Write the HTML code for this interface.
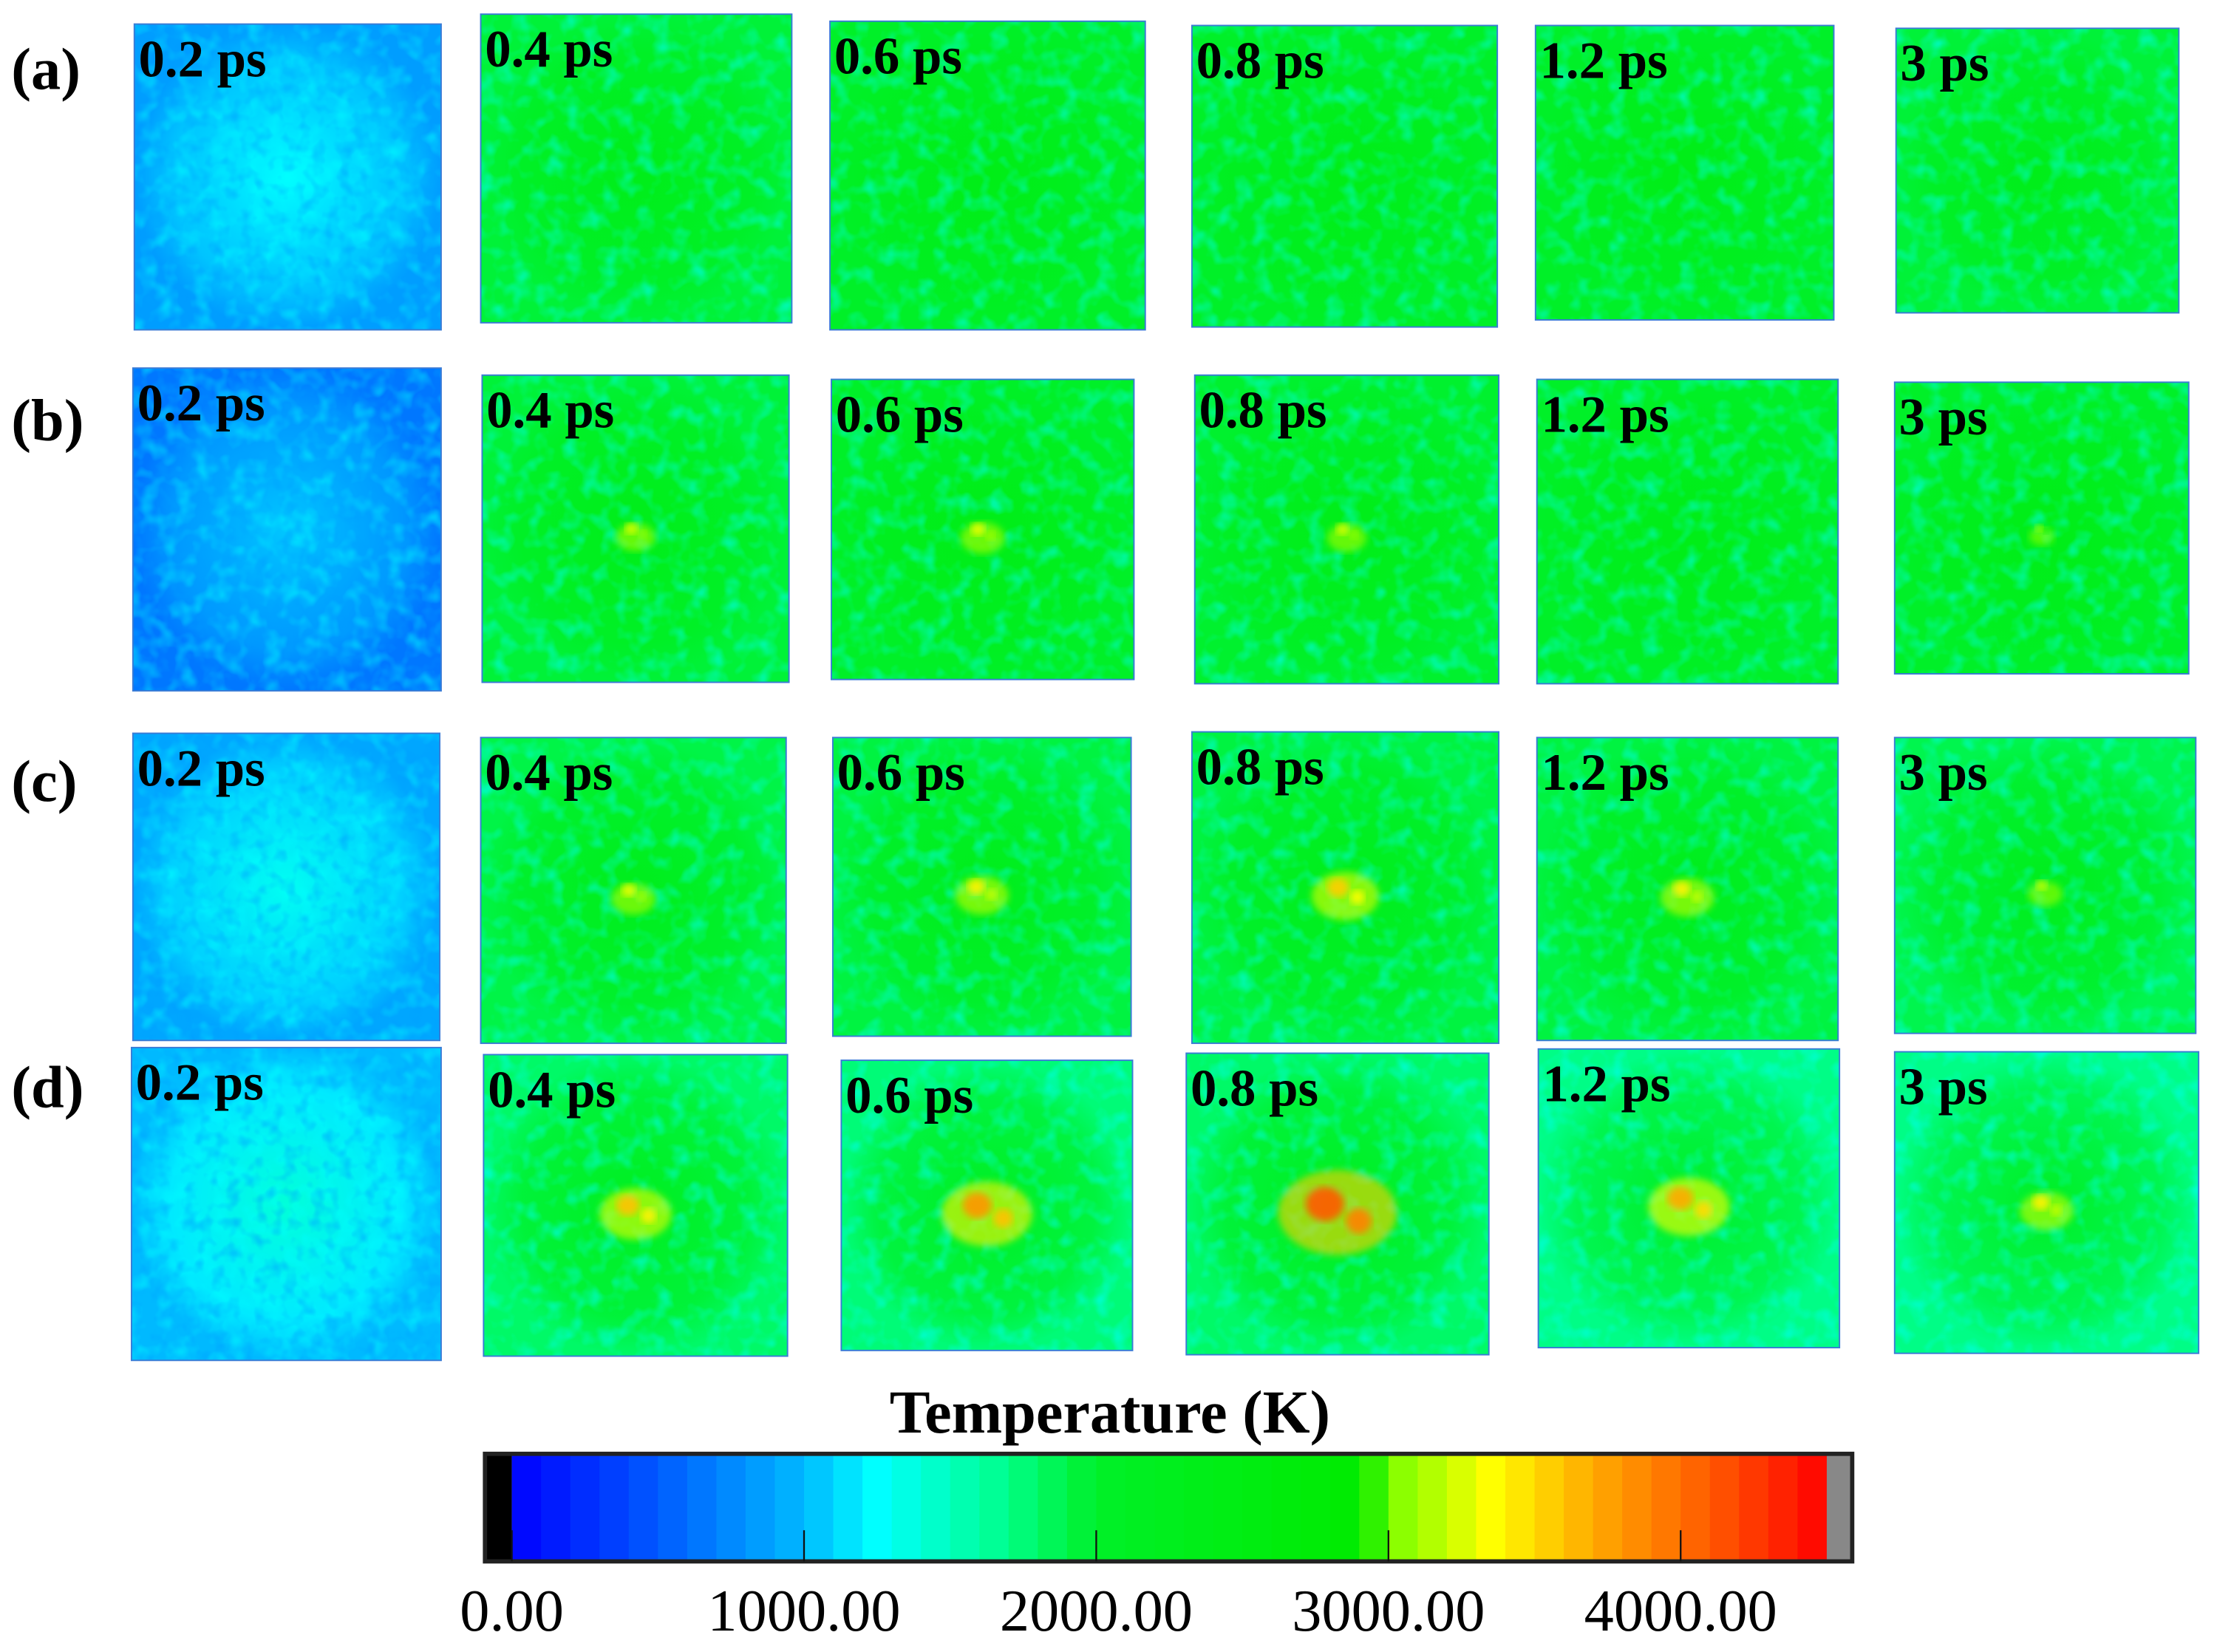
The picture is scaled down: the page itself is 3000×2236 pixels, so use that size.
<!DOCTYPE html>
<html><head><meta charset="utf-8"><style>
html,body{margin:0;padding:0;background:#fff;}
svg{display:block;}
text{font-family:"Liberation Serif",serif;}
</style></head><body>
<svg id="fig" width="3000" height="2236" viewBox="0 0 1568 1167" preserveAspectRatio="none" xmlns="http://www.w3.org/2000/svg">
<defs>
<filter id="mottle" x="0" y="0" width="1" height="1">
<feTurbulence type="fractalNoise" baseFrequency="0.08" numOctaves="2" seed="3"/>
<feColorMatrix type="matrix" values="0 0 0 0 0  0 0 0 0 1  0 0 0 0 1  0 0 0 2.2 -1.0"/>
</filter>
<filter id="mottle2" x="0" y="0" width="1" height="1">
<feTurbulence type="fractalNoise" baseFrequency="0.1" numOctaves="2" seed="9"/>
<feColorMatrix type="matrix" values="0 0 0 0 0  0 0 0 0 0.35  0 0 0 0 1  0 0 0 2.2 -1.05"/>
</filter>
<filter id="blur3"><feGaussianBlur stdDeviation="2.5"/></filter>
</defs>
<g id="panels"></g>
<g id="colorbar"></g>
</svg>
<script>
const rowLabels = ['(a)','(b)','(c)','(d)'];
const times = ['0.2 ps','0.4 ps','0.6 ps','0.8 ps','1.2 ps','3 ps'];
const baseTempA = [850,1950,2000,2000,2000,1950];
const baseTempB = [650,1950,2000,1980,2000,2000];
const baseTempC = [900,1900,1920,1920,1920,1880];
const baseTempD = [1000,1800,1750,1800,1700,1700];
const peakTempA = [1500,2100,2100,2100,2100,2100];
const peakTempB = [1400,3250,3300,3250,2100,3100];
const peakTempC = [1500,3300,3400,3550,3400,3200];
const peakTempD = [2100,3600,3800,4100,3700,3400];
const cbTicks = [0,1000,2000,3000,4000];
const cbTickLabels = ['0.00','1000.00','2000.00','3000.00','4000.00'];
const cbMax = 4500;

const baseTemps=[baseTempA,baseTempB,baseTempC,baseTempD];
const peakTemps=[peakTempA,peakTempB,peakTempC,peakTempD];

const boxes=[
 [[95,17,312,233],[340,10,560,228],[587,15,810,233],[843,18,1059,231],[1086,18,1297,226],[1341,20,1541,221]],
 [[94,260,312,488],[341,265,558,482],[588,268,802,480],[845,265,1060,483],[1087,268,1300,483],[1340,270,1548,476]],
 [[94,518,311,735],[340,521,556,737],[589,521,800,732],[843,517,1060,737],[1087,521,1300,735],[1340,521,1553,730]],
 [[93,740,312,961],[342,745,557,958],[595,749,801,954],[839,744,1053,957],[1088,741,1301,952],[1340,743,1555,956]]];
const rowLabelY=[63,311,566,782];

const stops=[[0,[0,0,255]],[500,[0,90,255]],[1000,[0,185,255]],[1250,[0,255,255]],[1650,[0,255,150]],[2000,[0,240,40]],[2900,[0,235,0]],[3050,[140,255,0]],[3350,[255,255,0]],[3700,[255,170,0]],[4100,[255,90,0]],[4500,[255,0,0]]];
function cmap(t){
  if(t<=stops[0][0])return 'rgb(0,0,255)';
  for(let i=1;i<stops.length;i++){
    if(t<=stops[i][0]){const a=stops[i-1],b=stops[i];const f=(t-a[0])/(b[0]-a[0]);
      const c=a[1].map((v,k)=>Math.round(v+(b[1][k]-v)*f));return `rgb(${c})`;}
  }
  return 'rgb(255,0,0)';
}
const NS='http://www.w3.org/2000/svg';
function mk(tag,attrs,parent){const e=document.createElementNS(NS,tag);for(const k in attrs)e.setAttribute(k,attrs[k]);parent.appendChild(e);return e;}

const P=document.getElementById('panels');
rowLabels.forEach((lab,r)=>{
  const t=mk('text',{x:8,y:rowLabelY[r],'font-size':42,'font-weight':'bold'},P);
  
  
  t.textContent=lab;
  times.forEach((tm,c)=>{
    const [x0,y0,x1,y1]=boxes[r][c];const w=x1-x0,h=y1-y0,cx=(x0+x1)/2,cy=(y0+y1)/2;
    const g=mk('g',{},P);
    
    
    const base=baseTemps[r][c],peak=peakTemps[r][c];
    mk('rect',{x:x0,y:y0,width:w,height:h,fill:cmap(base)},g);
    const gid='rg'+r+'_'+c;
    const rg=mk('radialGradient',{id:gid},g);
    mk('stop',{offset:'0','stop-color':cmap(base+400),'stop-opacity':1},rg);
    mk('stop',{offset:'0.75','stop-color':cmap(base+250),'stop-opacity':0.7},rg);
    mk('stop',{offset:'1','stop-color':cmap(base+250),'stop-opacity':0},rg);
    mk('rect',{x:x0,y:y0,width:w,height:h,fill:`url(#${gid})`},g);
    mk('rect',{x:x0,y:y0,width:w,height:h,filter:'url(#mottle)',opacity:0.6},g);
    if(base<1200) mk('rect',{x:x0,y:y0,width:w,height:h,filter:'url(#mottle2)',opacity:0.6},g);
    if(peak>3000){
      const s=(peak-3000)/1100;
      const rr=4+s*26;
      mk('ellipse',{cx:cx,cy:cy+6,rx:rr*1.4,ry:rr,fill:cmap(3000+(peak-3000)*0.5),opacity:0.6,filter:'url(#blur3)'},g);
      mk('ellipse',{cx:cx-rr*0.3,cy:cy,rx:rr*0.45,ry:rr*0.4,fill:cmap(peak),opacity:0.9,filter:'url(#blur3)'},g);
      mk('ellipse',{cx:cx+rr*0.5,cy:cy+rr*0.4,rx:rr*0.3,ry:rr*0.3,fill:cmap(peak-200),opacity:0.9,filter:'url(#blur3)'},g);
    }
    mk('rect',{x:x0,y:y0,width:w,height:h,fill:'none',stroke:'#3a7bd5','stroke-width':1},g);
    const tt=mk('text',{x:x0+3,y:y0+37,'font-size':37,'font-weight':'bold'},g);
    
    
    tt.textContent=tm;
  });
});

const C=document.getElementById('colorbar');
const cbX0=362,cbX1=1292,cbY0=1027,cbY1=1103;
const xs=v=>cbX0+(v/cbMax)*(cbX1-cbX0);
const title=mk('text',{x:785,y:1012,'font-size':43,'font-weight':'bold','text-anchor':'middle'},C);


title.textContent='Temperature (K)';
const blk=mk('rect',{x:343,y:cbY0,width:cbX0-343,height:cbY1-cbY0,fill:'#000'},C);


for(let v=0;v<cbMax;v+=100){
  const b=mk('rect',{x:xs(v),y:cbY0,width:xs(v+100)-xs(v)+0.5,height:cbY1-cbY0,fill:cmap(v+50)},C);
  
  
}
const gr=mk('rect',{x:cbX1,y:cbY0,width:1310-cbX1,height:cbY1-cbY0,fill:'#888'},C);


const fr=mk('rect',{x:343,y:cbY0,width:1310-343,height:cbY1-cbY0,fill:'none',stroke:'#222','stroke-width':3},C);


cbTicks.forEach((v,i)=>{
  const tk=mk('line',{x1:xs(v),x2:xs(v),y1:cbY1-22,y2:cbY1,stroke:'#111','stroke-width':1.2},C);
  
  
  const tl=mk('text',{x:xs(v),y:1152,'font-size':42,'text-anchor':'middle'},C);
  
  
  tl.textContent=cbTickLabels[i];
});
</script>
</body></html>
